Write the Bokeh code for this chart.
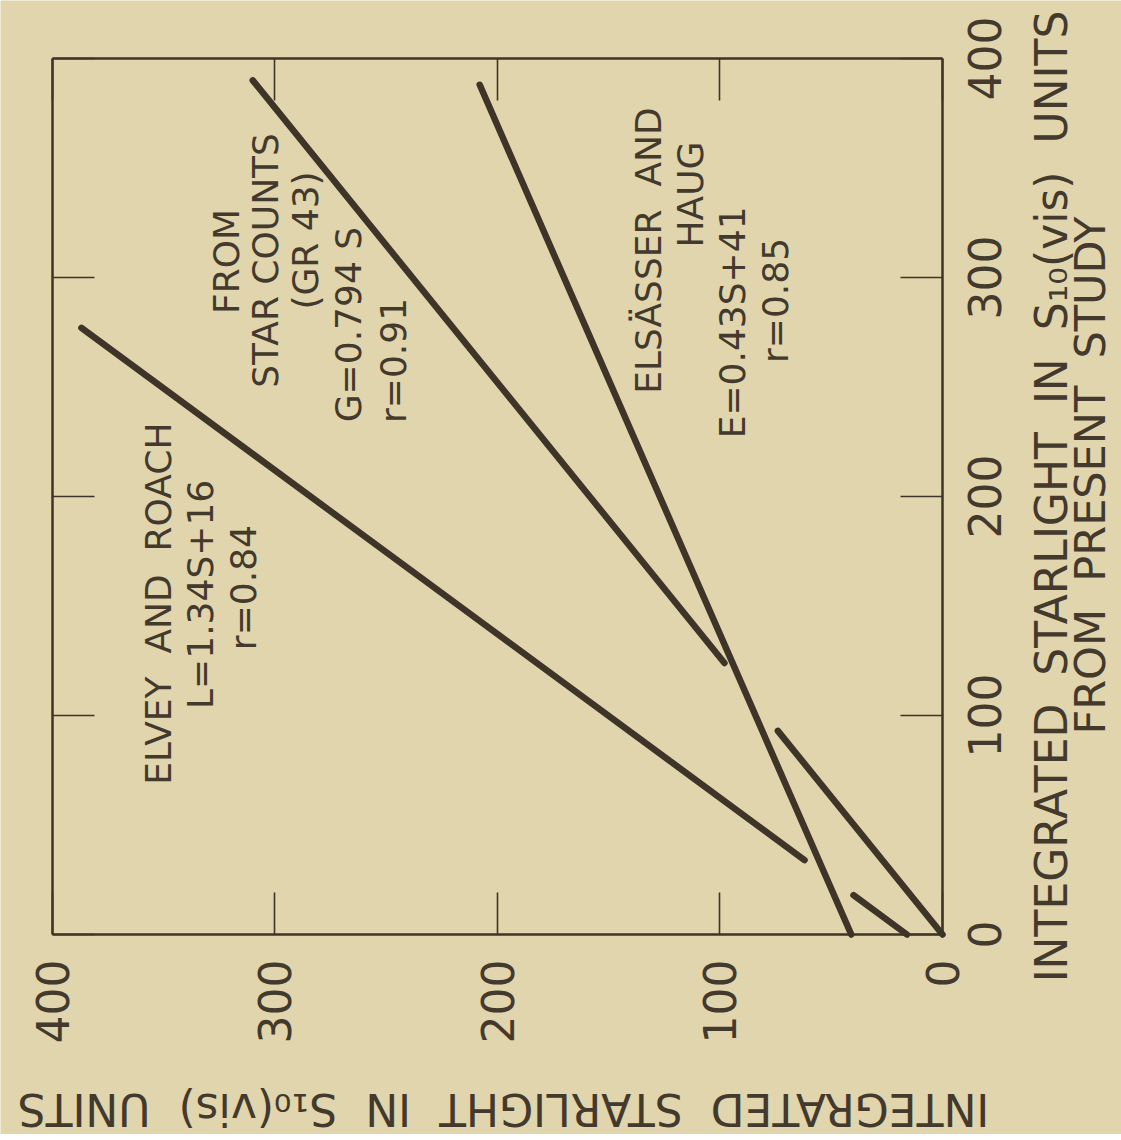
import math
from bokeh.plotting import figure
from bokeh.models import Range1d, LinearAxis, FixedTicker, Label
from bokeh.core.properties import value
from bokeh.embed import file_html
from bokeh.resources import INLINE

# ---- data ----
# Original chart is turned 90 deg: S (present study) runs up the right side,
# the comparison values (L, G, E) run leftwards along the bottom.
ticks = [0, 100, 200, 300, 400]
tick_labels = ["0", "100", "200", "300", "400"]

# Elvey and Roach, L = 1.34 S + 16 (drawn in two pieces)
elvey_s = [[0, 18], [34, 277]]
elvey_l = [[16, 40], [62, 387]]
# From star counts (GR43), G = 0.794 S (drawn in two pieces)
gr_s = [[0, 93], [124, 390]]
gr_g = [[0, 74], [98, 310]]
# Elsasser and Haug, E = 0.43 S + 41
eh_s = [[0, 388]]
eh_e = [[41, 208]]

SP = "\u00a0\u00a0"
x_title = SP.join(["INTEGRATED", "STARLIGHT", "IN", "S\u2081\u2080(vis)", "UNITS"])
s_title_1 = x_title
s_title_2 = SP.join(["FROM", "PRESENT", "STUDY"])

BG = "#e0d5ad"
INK = "#3e3427"
TXT = "#43392c"
FONT = "DejaVu Sans"

W, H = 1121, 1134
# plotting area spans the whole canvas; the chart box is [0,400] x [0,400]
p = figure(width=W, height=H,
           x_range=Range1d(423.37, -80.45), y_range=Range1d(-91.32, 426.48),
           x_axis_location=None, y_axis_location=None,
           min_border=0,
           output_backend="svg", toolbar_location=None,
           background_fill_color=BG, border_fill_color=BG,
           outline_line_color=None)
p.grid.visible = False

bottom = LinearAxis(fixed_location=0)
top = LinearAxis(fixed_location=400)
left = LinearAxis(fixed_location=400)
right = LinearAxis(fixed_location=0)
p.add_layout(bottom, "below")
p.add_layout(top, "above")
p.add_layout(left, "left")
p.add_layout(right, "right")

for ax in [bottom, right, top, left]:
    ax.bounds = (0, 400)
    ax.ticker = FixedTicker(ticks=ticks, minor_ticks=[])
    ax.major_tick_in = 42
    ax.major_tick_out = 0
    ax.minor_tick_in = 0
    ax.minor_tick_out = 0
    ax.axis_line_width = 2.5
    ax.axis_line_color = INK
    ax.major_tick_line_width = 1.6
    ax.major_tick_line_color = INK
    ax.major_label_overrides = {t: l for t, l in zip(ticks, tick_labels)}
    ax.major_label_text_font = FONT
    ax.major_label_text_color = TXT
    ax.major_label_text_font_size = "44px"
    ax.major_label_orientation = math.pi / 2
    ax.major_label_standoff = 25

for ax in [top, left, right]:
    ax.major_label_text_font_size = "0px"
    ax.major_label_text_alpha = 0
    ax.major_label_standoff = 0

p.multi_line(xs=elvey_l, ys=elvey_s, line_color=INK, line_width=6.5, line_cap="round")
p.multi_line(xs=gr_g, ys=gr_s, line_color=INK, line_width=6.5, line_cap="round")
p.multi_line(xs=eh_e, ys=eh_s, line_color=INK, line_width=6.5, line_cap="round")

# tick labels of the S axis (right side), centred on their ticks
p.text(x=[-18.9] * len(ticks), y=ticks, text=tick_labels, angle=math.pi / 2,
       text_align="center", text_baseline="middle",
       text_font=value(FONT), text_font_size="44px", text_color=TXT)


def lab(x, y, text, size="36px", angle=math.pi / 2):
    p.add_layout(Label(x=x, y=y, text=text, angle=angle,
                       text_align="center", text_baseline="middle",
                       text_font=FONT, text_font_size=size,
                       text_color=TXT))


lab(352.4, 151.1, SP.join(["ELVEY", "AND", "ROACH"]))
lab(333.5, 155.3, "L=1.34S+16")
lab(314.2, 158.4, "r=0.84")

lab(321.8, 307.3, "FROM")
lab(304.3, 307.8, "STAR COUNTS")
lab(286.3, 316.9, "(GR\u00a043)")
lab(267.0, 278.5, "G=0.794\u00a0S")
lab(246.7, 262.1, "r=0.91")

lab(132.1, 312.3, SP.join(["ELSÄSSER", "AND"]))
lab(113.3, 337.9, "HAUG")
lab(94.4, 279.5, "E=0.43S+41")
lab(75.1, 289.5, "r=0.85")

# axis titles
lab(-49.0, 200.0, s_title_1, size="44px")
lab(-66.5, 209.6, s_title_2, size="43px")
lab(197.3, -79.9, x_title, size="44px", angle=math.pi)

open("out.html", "w").write(file_html(p, INLINE))
